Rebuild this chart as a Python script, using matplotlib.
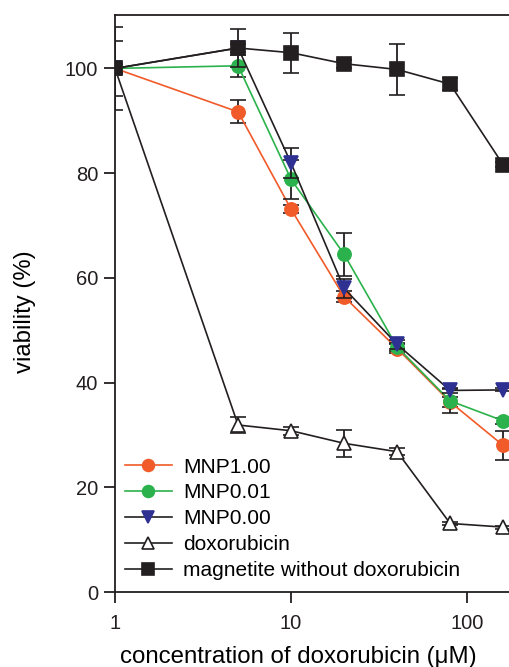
import numpy as np
import matplotlib.pyplot as plt
from matplotlib.lines import Line2D

plt.rcParams['font.family'] = ['Liberation Sans', 'DejaVu Sans']

# concentration of doxorubicin (uM)
conc = [1, 5, 10, 20, 40, 80, 160]

mnp100 = [100, 91.7, 73.1, 56.4, 46.5, 36.3, 28.0]
mnp100_err = [0.8, 2.2, 0.8, 1.0, 0.8, 1.0, 2.8]

mnp001 = [100, 100.5, 78.8, 64.5, 46.8, 36.5, 32.7]
mnp001_err = [0.8, 2.1, 3.8, 4.1, 0.8, 2.3, 0.6]

mnp000 = [100, 103.9, 81.9, 58.0, 47.3, 38.5, 38.6]
mnp000_err = [0.8, 0.8, 2.9, 1.8, 0.8, 0.5, 0.3]

doxo = [100, 31.9, 30.8, 28.4, 26.8, 13.1, 12.4]
doxo_err = [8.0, 1.6, 0.8, 2.6, 0.7, 0.3, 0.3]

magn = [100, 103.9, 103.0, 100.9, 99.8, 97.0, 81.6]
magn_err = [5.2, 3.6, 3.8, 0.8, 4.8, 1.2, 0.5]

dark = '#231f20'
orange = '#f15a29'
green = '#2bb24c'
navy = '#2e3192'

fig = plt.figure(figsize=(5.1, 6.67), dpi=100)
ax = fig.add_axes([0.2255, 0.1124, 0.7745, 0.8651])

common = dict(capsize=6, elinewidth=1.3, capthick=1.3, lw=1.2, ecolor=dark, ms=9.5)

styles = [
    ('doxorubicin', doxo, doxo_err, dark, '^', 'white', dark, 2),
    ('MNP1.00', mnp100, mnp100_err, orange, 'o', orange, orange, 3),
    ('MNP0.01', mnp001, mnp001_err, green, 'o', green, green, 4),
    ('MNP0.00', mnp000, mnp000_err, dark, 'v', navy, navy, 5),
    ('magnetite without doxorubicin', magn, magn_err, dark, 's', dark, dark, 6),
]
handles = {}
for name, y, e, c, m, fc, ec, z in styles:
    ax.errorbar(conc, y, yerr=e, color=c, marker=m, mfc=fc, mec=ec, mew=1.2,
                zorder=z, **common)
    handles[name] = Line2D([], [], color=c, lw=1.2, marker=m, ms=8.5, mfc=fc, mec=ec, mew=1.2)

ax.set_xscale('log')
ax.set_xlim(1, 175)
ax.set_ylim(0, 110.2)
ax.set_xticks([1, 10, 100])
ax.set_xticklabels(['1', '10', '100'])
ax.xaxis.set_minor_locator(plt.NullLocator())
ax.set_yticks([0, 20, 40, 60, 80, 100])

ax.spines['right'].set_visible(False)
for s in ['left', 'top', 'bottom']:
    ax.spines[s].set_linewidth(1.3)
    ax.spines[s].set_color(dark)
ax.tick_params(direction='out', length=8, width=1.3, labelsize=14.5, colors=dark, pad=4)
ax.tick_params(axis='x', pad=8)

ax.set_xlabel('concentration of doxorubicin (\u03bcM)', fontsize=17.3)
ax.set_ylabel('viability (%)', fontsize=17.2)
ax.xaxis.set_label_coords(0.463, -0.094)
ax.yaxis.set_label_coords(-0.2, 0.485)

order = ['MNP1.00', 'MNP0.01', 'MNP0.00', 'doxorubicin', 'magnetite without doxorubicin']
ax.legend([handles[k] for k in order], order,
          loc='lower left', bbox_to_anchor=(0.004, 0.0064), frameon=False,
          fontsize=15, handlelength=2.26, handletextpad=0.53, labelspacing=0.33,
          borderaxespad=0, borderpad=0.4)

fig.savefig('out.png', dpi=100)
